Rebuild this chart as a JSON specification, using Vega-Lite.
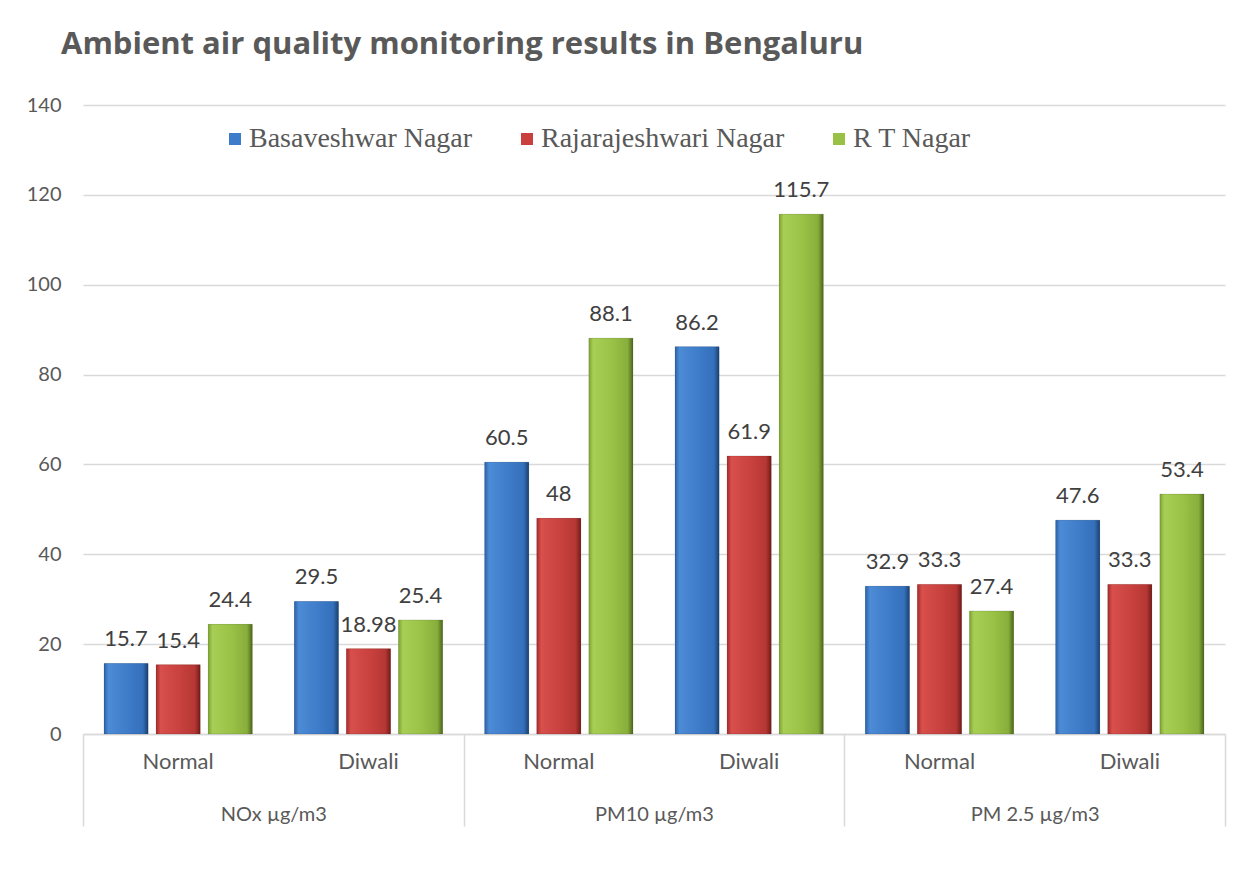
{
  "$schema": "https://vega.github.io/schema/vega-lite/v6.json",
  "width": 1142,
  "height": 629,
  "autosize": {"type": "none"},
  "padding": {"left": 83, "top": 105, "right": 27, "bottom": 162},
  "background": "white",
  "title": {
    "text": "Ambient air quality monitoring results in Bengaluru",
    "anchor": "start",
    "frame": "group",
    "dx": -22,
    "offset": 10,
    "baseline": "alphabetic",
    "font": "Open Sans",
    "fontSize": 31,
    "fontWeight": "bold",
    "color": "#595959"
  },
  "config": {"view": {"stroke": null}},
  "data": {
    "values": [
      {"pollutant": "NOx µg/m3", "period": "Normal", "group": "NOx µg/m3|Normal", "site": "Basaveshwar Nagar", "value": 15.7},
      {"pollutant": "NOx µg/m3", "period": "Normal", "group": "NOx µg/m3|Normal", "site": "Rajarajeshwari Nagar", "value": 15.4},
      {"pollutant": "NOx µg/m3", "period": "Normal", "group": "NOx µg/m3|Normal", "site": "R T Nagar", "value": 24.4},
      {"pollutant": "NOx µg/m3", "period": "Diwali", "group": "NOx µg/m3|Diwali", "site": "Basaveshwar Nagar", "value": 29.5},
      {"pollutant": "NOx µg/m3", "period": "Diwali", "group": "NOx µg/m3|Diwali", "site": "Rajarajeshwari Nagar", "value": 18.98},
      {"pollutant": "NOx µg/m3", "period": "Diwali", "group": "NOx µg/m3|Diwali", "site": "R T Nagar", "value": 25.4},
      {"pollutant": "PM10 µg/m3", "period": "Normal", "group": "PM10 µg/m3|Normal", "site": "Basaveshwar Nagar", "value": 60.5},
      {"pollutant": "PM10 µg/m3", "period": "Normal", "group": "PM10 µg/m3|Normal", "site": "Rajarajeshwari Nagar", "value": 48},
      {"pollutant": "PM10 µg/m3", "period": "Normal", "group": "PM10 µg/m3|Normal", "site": "R T Nagar", "value": 88.1},
      {"pollutant": "PM10 µg/m3", "period": "Diwali", "group": "PM10 µg/m3|Diwali", "site": "Basaveshwar Nagar", "value": 86.2},
      {"pollutant": "PM10 µg/m3", "period": "Diwali", "group": "PM10 µg/m3|Diwali", "site": "Rajarajeshwari Nagar", "value": 61.9},
      {"pollutant": "PM10 µg/m3", "period": "Diwali", "group": "PM10 µg/m3|Diwali", "site": "R T Nagar", "value": 115.7},
      {"pollutant": "PM 2.5 µg/m3", "period": "Normal", "group": "PM 2.5 µg/m3|Normal", "site": "Basaveshwar Nagar", "value": 32.9},
      {"pollutant": "PM 2.5 µg/m3", "period": "Normal", "group": "PM 2.5 µg/m3|Normal", "site": "Rajarajeshwari Nagar", "value": 33.3},
      {"pollutant": "PM 2.5 µg/m3", "period": "Normal", "group": "PM 2.5 µg/m3|Normal", "site": "R T Nagar", "value": 27.4},
      {"pollutant": "PM 2.5 µg/m3", "period": "Diwali", "group": "PM 2.5 µg/m3|Diwali", "site": "Basaveshwar Nagar", "value": 47.6},
      {"pollutant": "PM 2.5 µg/m3", "period": "Diwali", "group": "PM 2.5 µg/m3|Diwali", "site": "Rajarajeshwari Nagar", "value": 33.3},
      {"pollutant": "PM 2.5 µg/m3", "period": "Diwali", "group": "PM 2.5 µg/m3|Diwali", "site": "R T Nagar", "value": 53.4}
    ]
  },
  "layer": [
    {
      "encoding": {
        "x": {
          "field": "group",
          "type": "nominal",
          "sort": ["NOx µg/m3|Normal", "NOx µg/m3|Diwali", "PM10 µg/m3|Normal", "PM10 µg/m3|Diwali", "PM 2.5 µg/m3|Normal", "PM 2.5 µg/m3|Diwali"],
          "scale": {"paddingInner": 0, "paddingOuter": 0},
          "axis": {
            "title": null,
            "labelExpr": "split(datum.label, '|')[1]",
            "labelAngle": 0,
            "labelFont": "Lato",
            "labelFontSize": 22,
            "labelColor": "#595959",
            "labelPadding": 17,
            "ticks": false,
            "domainColor": "#d9d9d9",
            "domainWidth": 1.5,
            "grid": false
          }
        },
        "xOffset": {
          "field": "site",
          "type": "nominal",
          "sort": ["Basaveshwar Nagar", "Rajarajeshwari Nagar", "R T Nagar"],
          "scale": {"domain": ["Basaveshwar Nagar", "Rajarajeshwari Nagar", "R T Nagar"], "paddingInner": 0.154, "paddingOuter": 0.404}
        },
        "y": {
          "field": "value",
          "type": "quantitative",
          "scale": {"domain": [0, 140], "nice": false},
          "axis": {
            "title": null,
            "values": [0, 20, 40, 60, 80, 100, 120, 140],
            "domain": false,
            "ticks": false,
            "labelFont": "Lato",
            "labelFontSize": 20,
            "labelColor": "#595959",
            "labelPadding": 22,
            "gridColor": "#d9d9d9",
            "gridWidth": 1.5
          }
        }
      },
      "layer": [
        {
          "mark": {"type": "bar"},
          "encoding": {
            "color": {
              "field": "site",
              "type": "nominal",
              "scale": {
                "domain": ["Basaveshwar Nagar", "Rajarajeshwari Nagar", "R T Nagar"],
                "range": ["#3e7bc8", "#c8413e", "#98c146"]
              },
              "legend": {
                "title": null,
                "orient": "none",
                "legendX": 138,
                "legendY": 20,
                "padding": 0,
                "direction": "horizontal",
                "labelFont": "Liberation Serif",
                "labelFontSize": 28,
                "labelColor": "#595959",
                "symbolType": "square",
                "symbolSize": 144,
                "symbolStrokeWidth": 0,
                "labelOffset": 0,
                "columnPadding": 40,
                "labelLimit": 400
              }
            }
          }
        },
        {
          "transform": [{"filter": "datum.site === 'Basaveshwar Nagar'"}],
          "mark": {"type": "bar", "stroke": "#000000", "strokeOpacity": 0.12, "strokeWidth": 1,
            "fill": {"gradient": "linear", "x1": 0, "y1": 0, "x2": 1, "y2": 0, "stops": [
              {"offset": 0, "color": "#2d62a8"}, {"offset": 0.1, "color": "#4c8bd6"}, {"offset": 0.55, "color": "#3e7bc8"}, {"offset": 0.88, "color": "#3470bb"}, {"offset": 1, "color": "#1c416f"}]}},
          "encoding": {}
        },
        {
          "transform": [{"filter": "datum.site === 'Rajarajeshwari Nagar'"}],
          "mark": {"type": "bar", "stroke": "#000000", "strokeOpacity": 0.12, "strokeWidth": 1,
            "fill": {"gradient": "linear", "x1": 0, "y1": 0, "x2": 1, "y2": 0, "stops": [
              {"offset": 0, "color": "#a42c2b"}, {"offset": 0.1, "color": "#d84f4c"}, {"offset": 0.55, "color": "#c8413e"}, {"offset": 0.88, "color": "#b53734"}, {"offset": 1, "color": "#721c1a"}]}},
          "encoding": {}
        },
        {
          "transform": [{"filter": "datum.site === 'R T Nagar'"}],
          "mark": {"type": "bar", "stroke": "#000000", "strokeOpacity": 0.12, "strokeWidth": 1,
            "fill": {"gradient": "linear", "x1": 0, "y1": 0, "x2": 1, "y2": 0, "stops": [
              {"offset": 0, "color": "#7fa332"}, {"offset": 0.1, "color": "#a8cf55"}, {"offset": 0.55, "color": "#98c146"}, {"offset": 0.88, "color": "#88ae3b"}, {"offset": 1, "color": "#4c661d"}]}},
          "encoding": {}
        },
        {
          "mark": {"type": "text", "baseline": "bottom", "dy": -12, "font": "Lato", "fontSize": 22, "color": "#404040"},
          "encoding": {"text": {"field": "value", "type": "quantitative"}}
        }
      ]
    },
    {
      "mark": {"type": "bar", "opacity": 0},
      "encoding": {
        "x": {
          "field": "pollutant",
          "type": "nominal",
          "sort": ["NOx µg/m3", "PM10 µg/m3", "PM 2.5 µg/m3"],
          "scale": {"paddingInner": 0, "paddingOuter": 0},
          "axis": {
            "orient": "bottom",
            "title": null,
            "labelAngle": 0,
            "domain": false,
            "ticks": true,
            "tickBand": "extent",
            "tickSize": 92,
            "tickColor": "#d9d9d9",
            "tickWidth": 1.5,
            "labelFont": "Lato",
            "labelFontSize": 20,
            "labelColor": "#595959",
            "labelPadding": -22,
            "grid": false
          }
        },
        "y": {"field": "value", "type": "quantitative", "aggregate": "max"}
      }
    }
  ],
  "resolve": {"scale": {"x": "independent"}, "axis": {"x": "independent"}}
}
